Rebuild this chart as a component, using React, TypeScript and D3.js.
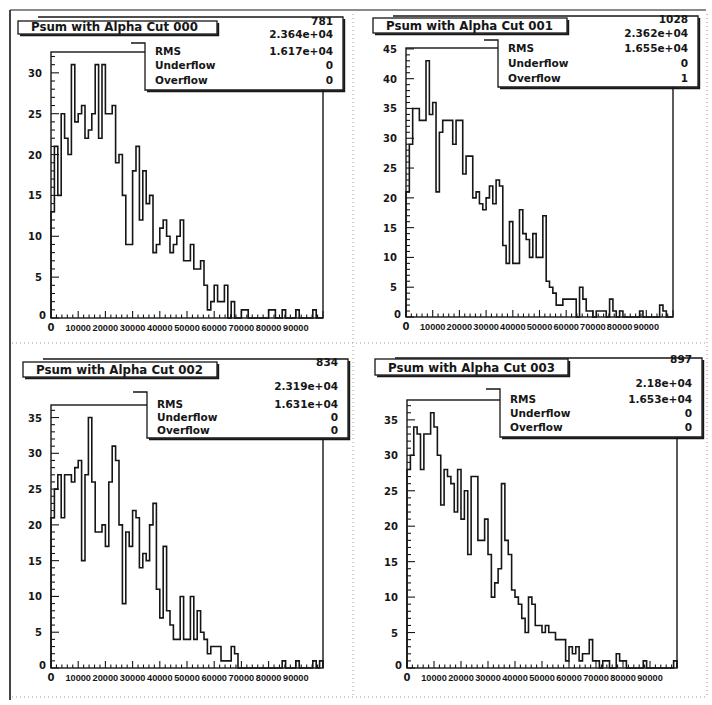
import React, { useEffect } from "react";
import * as d3 from "d3";

// ---------- data (80 bins, 0 .. 100000) ----------
const CUT000 = [
  13, 21, 15, 25, 22, 20, 31, 24, 25, 26,
  22, 23, 25, 31, 22, 31, 25, 25, 26, 19,
  20, 15, 9, 9, 18, 21, 12, 18, 14, 15,
  8, 9, 11, 12, 10, 8, 9, 10, 12, 7,
  7, 9, 6, 6, 7, 4, 1, 2, 4, 2,
  2, 4, 0, 2, 0, 0, 1, 1, 0, 0,
  0, 0, 0, 0, 1, 1, 0, 0, 1, 0,
  0, 0, 1, 0, 0, 0, 0, 1, 0, 0,
];
const CUT001 = [
  21, 29, 35, 35, 33, 33, 43, 34, 36, 21,
  31, 33, 33, 33, 29, 33, 33, 24, 27, 27,
  20, 21, 19, 18, 20, 22, 19, 23, 22, 12,
  9, 16, 9, 9, 18, 14, 13, 10, 14, 10,
  10, 17, 6, 5, 4, 2, 2, 3, 3, 3,
  3, 0, 5, 3, 1, 1, 0, 1, 1, 1,
  0, 3, 1, 0, 1, 0, 0, 0, 0, 0,
  1, 0, 0, 0, 0, 0, 2, 1, 0, 0,
];
const CUT002 = [
  21, 25, 27, 21, 27, 27, 26, 28, 29, 15,
  27, 35, 26, 19, 19, 20, 17, 26, 31, 29,
  20, 9, 19, 17, 22, 21, 14, 16, 15, 20,
  23, 11, 7, 17, 8, 6, 4, 4, 10, 4,
  4, 10, 4, 8, 5, 4, 2, 3, 3, 3,
  1, 1, 1, 3, 2, 0, 0, 0, 0, 0,
  0, 0, 0, 0, 0, 0, 0, 0, 1, 0,
  0, 0, 1, 0, 0, 0, 0, 1, 0, 1,
];
const CUT003 = [
  28, 30, 34, 33, 28, 33, 33, 36, 34, 30,
  23, 28, 27, 26, 22, 28, 21, 25, 16, 27,
  27, 18, 18, 21, 16, 10, 12, 14, 26, 18,
  16, 11, 10, 9, 7, 5, 10, 9, 6, 6,
  5, 6, 5, 5, 4, 4, 4, 1, 3, 2,
  3, 1, 2, 2, 4, 1, 1, 0, 1, 1,
  0, 0, 2, 1, 1, 0, 0, 0, 0, 0,
  1, 0, 0, 0, 0, 0, 0, 0, 0, 1,
];
const SERIES = [CUT000, CUT001, CUT002, CUT003];
const TITLES = [
  "Psum with Alpha Cut 000",
  "Psum with Alpha Cut 001",
  "Psum with Alpha Cut 002",
  "Psum with Alpha Cut 003",
];
const ENTRIES = ["781", "1028", "834", "897"];
const MEANS = ["2.364e+04", "2.362e+04", "2.319e+04", "2.18e+04"];
const RMS = ["1.617e+04", "1.655e+04", "1.631e+04", "1.653e+04"];
const UNDERFLOW = ["0", "0", "0", "0"];
const OVERFLOW = ["0", "1", "0", "0"];
const X_TICK_LABELS = ["0", "10000", "20000", "30000", "40000", "50000", "60000", "70000", "80000", "90000"];
const X_MIN = 0;
const X_MAX = 100000;

// ---------- layout ----------
type Geo = {
  fx0: number; fx1: number; fy0: number; fy1: number;
  title: [number, number, number, number];
  sL: number; sR: number; sT: number; sStep: number; sB: number;
  rows: number[];
};
const GEO: Geo[] = [
  { fx0: 51, fx1: 323, fy0: 52, fy1: 318, title: [18, 21, 217, 34], sL: 145, sR: 343, sT: 17, sStep: 43, sB: 90, rows: [21, 34, 51, 65, 80] },
  { fx0: 406, fx1: 673, fy0: 48, fy1: 317, title: [373, 18, 567, 33], sL: 498, sR: 698, sT: 16, sStep: 40, sB: 87, rows: [19, 33, 48, 63, 78] },
  { fx0: 51, fx1: 323, fy0: 405, fy1: 668, title: [23, 362, 217, 377], sL: 147, sR: 348, sT: 359, sStep: 392, sB: 438, rows: [362, 386, 404, 417, 430] },
  { fx0: 407, fx1: 677, fy0: 400, fy1: 668, title: [375, 359, 568, 375], sL: 500, sR: 702, sT: 358, sStep: 389, sB: 437, rows: [359, 383, 399, 413, 427] },
];

const FONT = "'DejaVu Sans', Verdana, sans-serif";
const NARROW = "'Liberation Sans', Arial, sans-serif";
const INK = "#161616";

function Panel({ idx }: { idx: number }) {
  const values = SERIES[idx];
  const g = GEO[idx];
  const x = d3.scaleLinear().domain([X_MIN, X_MAX]).range([g.fx0, g.fx1]);
  const yMax = (d3.max(values) as number) * 1.05;
  const y = d3.scaleLinear().domain([0, yMax]).range([g.fy1, g.fy0]);
  const bw = (X_MAX - X_MIN) / values.length;
  const pts: [number, number][] = [
    [X_MIN, 0],
    ...values.map((v, i) => [X_MIN + i * bw, v] as [number, number]),
    [X_MAX, values[values.length - 1]],
    [X_MAX, 0],
  ];
  const histPath = d3
    .line<[number, number]>()
    .x((d) => x(d[0]))
    .y((d) => y(d[1]))
    .curve(d3.curveStepAfter)(pts) as string;

  const yMinor = d3.range(0, Math.floor(yMax) + 1);
  const yMajor = d3.range(0, yMax, 5);
  const xMinor = d3.range(X_MIN, X_MAX + 1, 2000);
  const [tx0, ty0, tx1, ty1] = g.title;

  return (
    <g>
      <rect x={g.fx0} y={g.fy0} width={g.fx1 - g.fx0} height={g.fy1 - g.fy0} fill="none" stroke={INK} strokeWidth={1.4} />
      <path d={histPath} fill="none" stroke={INK} strokeWidth={1.6} />
      {yMinor.map((v) => (
        <line key={"ym" + v} x1={g.fx0} x2={g.fx0 + (v % 5 === 0 ? 8 : 4)} y1={y(v)} y2={y(v)} stroke={INK} strokeWidth={1.1} />
      ))}
      {xMinor.map((v) => (
        <line key={"xm" + v} x1={x(v)} x2={x(v)} y1={g.fy1} y2={g.fy1 - (v % 10000 === 0 ? 7 : 3.5)} stroke={INK} strokeWidth={1.1} />
      ))}
      {yMajor.map((v) => (
        <text key={"yl" + v} x={v === 0 ? g.fx0 - 5 : g.fx0 - 9} y={v === 0 ? y(v) + 1 : y(v) + 4}
          textAnchor="end" fontFamily={FONT} fontWeight="bold" fontSize={10} fill={INK}>{v}</text>
      ))}
      {X_TICK_LABELS.map((s, i) => (
        <text key={"xl" + i} x={x(+s)} y={g.fy1 + 13} textAnchor="middle" fontFamily={i === 0 ? FONT : NARROW} fontWeight="bold"
          fontSize={i === 0 ? 10 : 9.2} fill={INK}>{s}</text>
      ))}

      {/* stats box */}
      <rect x={g.sL} y={g.sT} width={g.sR - g.sL} height={g.sB - g.sT} fill="#fff" />
      <text x={g.sR - 10} y={g.rows[0] + 4} textAnchor="end" fontFamily={FONT} fontWeight="bold" fontSize={10.5} fill={INK}>{ENTRIES[idx]}</text>
      <text x={g.sR - 10} y={g.rows[1] + 4} textAnchor="end" fontFamily={FONT} fontWeight="bold" fontSize={10.5} fill={INK}>{MEANS[idx]}</text>
      <text x={g.sL + 10} y={g.rows[2] + 4} fontFamily={FONT} fontWeight="bold" fontSize={10.5} fill={INK}>RMS</text>
      <text x={g.sR - 10} y={g.rows[2] + 4} textAnchor="end" fontFamily={FONT} fontWeight="bold" fontSize={10.5} fill={INK}>{RMS[idx]}</text>
      <text x={g.sL + 10} y={g.rows[3] + 4} fontFamily={FONT} fontWeight="bold" fontSize={10.5} fill={INK}>Underflow</text>
      <text x={g.sR - 10} y={g.rows[3] + 4} textAnchor="end" fontFamily={FONT} fontWeight="bold" fontSize={10.5} fill={INK}>{UNDERFLOW[idx]}</text>
      <text x={g.sL + 10} y={g.rows[4] + 4} fontFamily={FONT} fontWeight="bold" fontSize={10.5} fill={INK}>Overflow</text>
      <text x={g.sR - 10} y={g.rows[4] + 4} textAnchor="end" fontFamily={FONT} fontWeight="bold" fontSize={10.5} fill={INK}>{OVERFLOW[idx]}</text>
      <path d={`M${g.sL - 14},${g.sStep} H${g.sL} V${g.sB} H${g.sR} V${g.sT} H${tx0 + 20}`} fill="none" stroke={INK} strokeWidth={1.3} />
      <path d={`M${g.sL + 2},${g.sB + 1.2} H${g.sR + 1.2} V${g.sT + 2}`} fill="none" stroke={INK} strokeWidth={2} />

      {/* title box */}
      <rect x={tx0} y={ty0} width={tx1 - tx0} height={ty1 - ty0} fill="#fff" stroke={INK} strokeWidth={1.3} />
      <path d={`M${tx0 + 2},${ty1 + 1.2} H${tx1 + 1.2} V${ty0 + 2}`} fill="none" stroke={INK} strokeWidth={2} />
      <text x={tx0 + 13} y={ty1 - 3} fontFamily={FONT} fontWeight="bold" fontSize={11.8} fill={INK}>{TITLES[idx]}</text>
    </g>
  );
}

export default function App() {
  useEffect(() => {
    document.body.style.margin = "0";
  }, []);
  return (
    <svg width={712} height={705} style={{ display: "block", background: "#fff" }}>
      <rect x={0} y={0} width={712} height={705} fill="#fff" />
      {/* page / pad borders from the printout */}
      <line x1={10} x2={706} y1={10} y2={10} stroke={INK} strokeWidth={1.2} />
      <line x1={10} x2={10} y1={10} y2={700} stroke={INK} strokeWidth={1.6} />
      <line x1={353} x2={353} y1={14} y2={698} stroke="#9a9a9a" strokeWidth={1} strokeDasharray="1 3" />
      <line x1={707} x2={707} y1={14} y2={698} stroke="#9a9a9a" strokeWidth={1} strokeDasharray="1 3" />
      <line x1={12} x2={708} y1={343} y2={343} stroke="#9a9a9a" strokeWidth={1} strokeDasharray="1 3" />
      <line x1={12} x2={708} y1={697} y2={697} stroke="#9a9a9a" strokeWidth={1} strokeDasharray="1 3" />
      {[0, 1, 2, 3].map((i) => (
        <Panel key={i} idx={i} />
      ))}
    </svg>
  );
}
